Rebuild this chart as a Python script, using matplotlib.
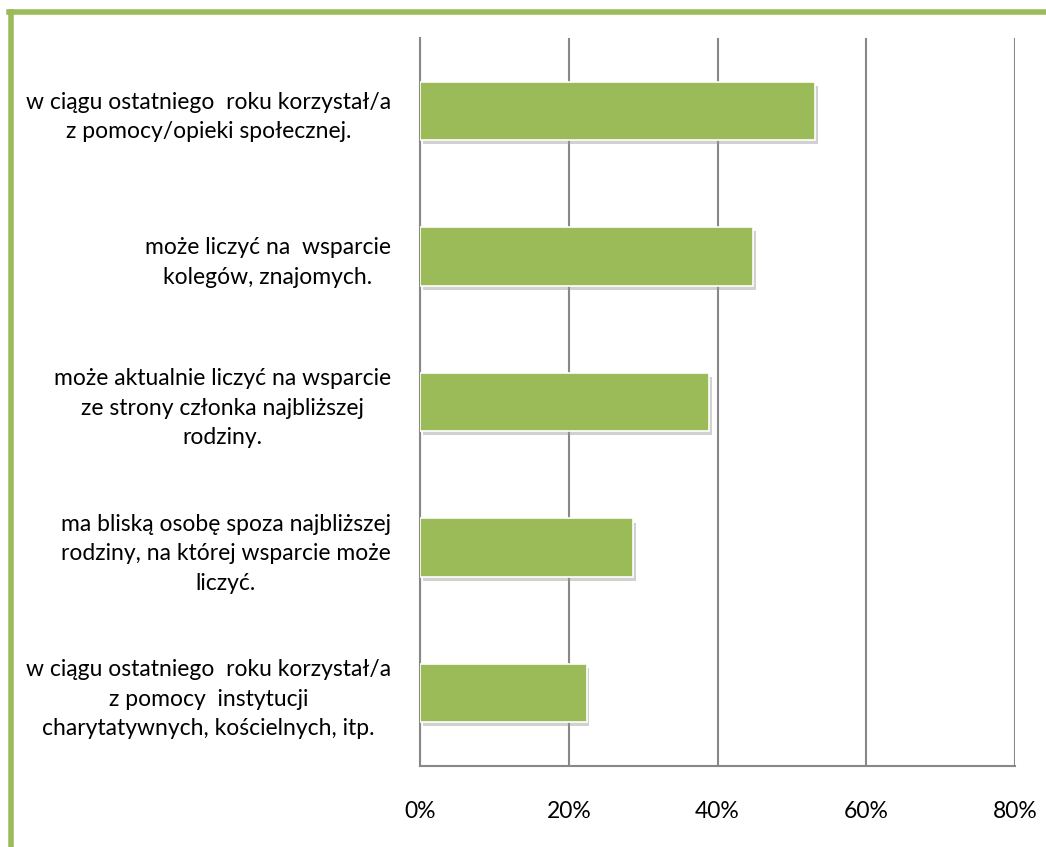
import matplotlib.pyplot as plt
import matplotlib.patheffects as pe
from matplotlib.lines import Line2D

plt.rcParams['font.family'] = ['Lato', 'DejaVu Sans']

labels = [
    "w ciągu ostatniego  roku korzystał/a\nz pomocy/opieki społecznej.",
    "może liczyć na  wsparcie\nkolegów, znajomych.",
    "może aktualnie liczyć na wsparcie\nze strony członka najbliższej\nrodziny.",
    "ma bliską osobę spoza najbliższej\nrodziny, na której wsparcie może\nliczyć.",
    "w ciągu ostatniego  roku korzystał/a\nz pomocy  instytucji\ncharytatywnych, kościelnych, itp.",
]
values = [53.1, 44.8, 38.9, 28.7, 22.4]
xticks = [0, 20, 40, 60, 80]

green = "#9BBB59"
grid = "#888888"

fig = plt.figure(figsize=(10.46, 8.47), dpi=100)
ax = fig.add_axes([420 / 1046, 1 - 766 / 847, 595 / 1046, 728 / 847])

ypos = list(range(len(labels)))[::-1]
bars = ax.barh(ypos, values, height=0.4, color=green, edgecolor="white", linewidth=1.2, zorder=3)
for b in bars:
    b.set_path_effects([pe.SimplePatchShadow(offset=(2, -3), shadow_rgbFace="#999999", alpha=0.45), pe.Normal()])

ax.set_xlim(0, 80)
ax.set_ylim(-0.5, len(labels) - 0.5)
ax.set_xticks(xticks)
ax.set_xticklabels([f"{t}%" for t in xticks], fontsize=16.5)
ax.set_yticks(ypos)
ax.set_yticklabels(labels, fontsize=16.5, multialignment="center", linespacing=1.5)
ax.tick_params(axis="y", length=0, pad=21)
ax.tick_params(axis="x", length=0, pad=25)
ax.xaxis.grid(True, color=grid, linewidth=1.5, zorder=0)
ax.set_axisbelow(True)
for s in ["top", "right"]:
    ax.spines[s].set_visible(False)
for s in ["left", "bottom"]:
    ax.spines[s].set_color(grid)
    ax.spines[s].set_linewidth(1.5)

# green frame on left and top
fig.add_artist(Line2D([10.5 / 1046, 10.5 / 1046], [0, 1 - 12.5 / 847], color=green, linewidth=4, transform=fig.transFigure))
fig.add_artist(Line2D([8.5 / 1046, 1], [1 - 12.5 / 847, 1 - 12.5 / 847], color=green, linewidth=4, transform=fig.transFigure))

fig.savefig("out.png", dpi=100)
